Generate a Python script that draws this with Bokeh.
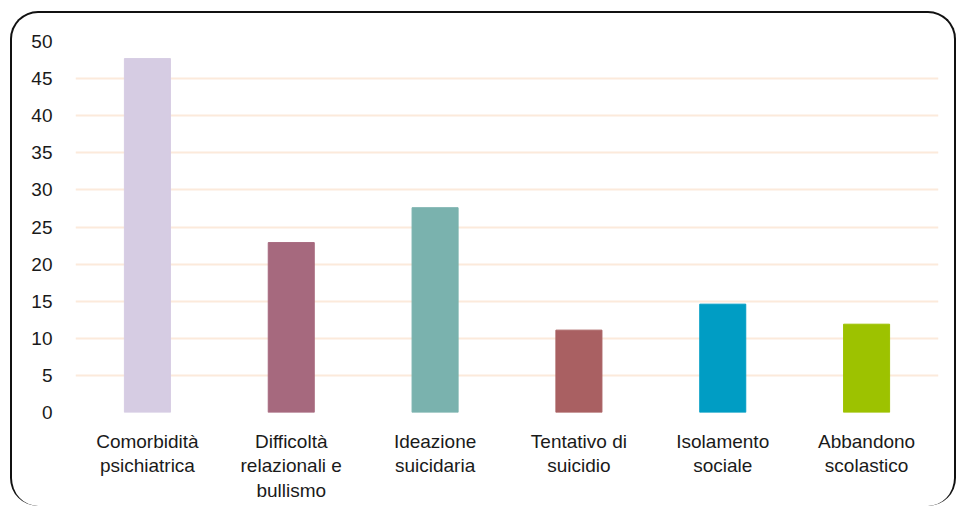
from bokeh.plotting import figure
from bokeh.models import ColumnDataSource, Range1d, FixedTicker
from bokeh.embed import file_html
from bokeh.resources import INLINE

categories = ["Comorbidità\npsichiatrica", "Difficoltà\nrelazionali e\nbullismo",
              "Ideazione\nsuicidaria", "Tentativo di\nsuicidio",
              "Isolamento\nsociale", "Abbandono\nscolastico"]
values = [47.7, 22.9, 27.6, 11.1, 14.6, 11.9]
colors = ["#D6CCE3", "#A6697E", "#7AB2AE", "#A96062", "#009DC4", "#9DC200"]
y_ticks = [0, 5, 10, 15, 20, 25, 30, 35, 40, 45, 50]

src = ColumnDataSource(dict(cat=categories, val=values, col=colors))

W, H = 946, 495
p = figure(x_range=categories, y_range=Range1d(0, 50), width=W, height=H,
           output_backend="svg", toolbar_location=None,
           min_border_left=63, min_border_right=20, min_border_top=28, min_border_bottom=96)
p.styles = {"border-top": "2px solid #111111", "border-left": "2px solid #111111",
            "border-right": "2px solid #111111", "border-bottom": "none",
            "border-radius": "28px", "margin-left": "10px", "margin-top": "11px"}
p.outline_line_color = None
p.background_fill_color = "white"
p.border_fill_color = None

p.vbar(x="cat", top="val", width=0.32, color="col", source=src)

p.xgrid.grid_line_color = None
p.ygrid.grid_line_color = "#FCEADB"
p.ygrid.grid_line_width = 2
p.ygrid.ticker = FixedTicker(ticks=y_ticks)

p.yaxis.ticker = FixedTicker(ticks=y_ticks)
p.yaxis.axis_line_color = None
p.yaxis.major_tick_line_color = None
p.yaxis.minor_tick_line_color = None
p.yaxis.major_label_standoff = 17
p.yaxis.major_label_text_font = "Liberation Sans"
p.yaxis.major_label_text_font_size = "19px"
p.yaxis.major_label_text_color = "#1a1a1a"

p.xaxis.axis_line_color = None
p.xaxis.major_tick_line_color = None
p.xaxis.major_label_standoff = 12
p.xaxis.major_label_text_font = "Liberation Sans"
p.xaxis.major_label_text_font_size = "19px"
p.xaxis.major_label_text_color = "#1a1a1a"
p.xaxis.major_label_text_line_height = 1.18

open("out.html", "w").write(file_html(p, INLINE))
